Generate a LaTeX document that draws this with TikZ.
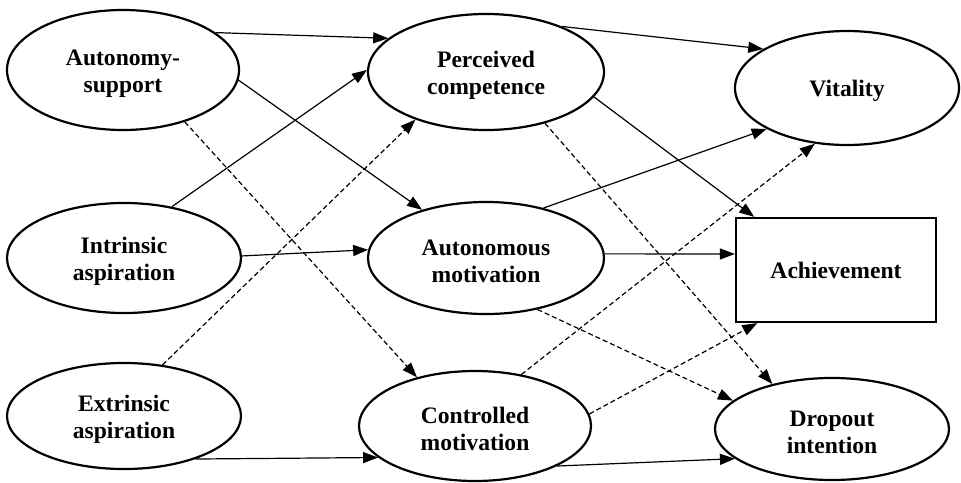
\documentclass[tikz,border=0pt]{standalone}
\usepackage{fontspec}
\setmainfont{Liberation Serif}
\usetikzlibrary{shapes.geometric,arrows.meta}
\newcommand\lowr{\rule{0pt}{23pt}}
\tikzset{
  oval/.style={ellipse, draw, line width=2.2pt, inner sep=0pt, align=center,
    font=\bfseries\fontsize{23.6}{27}\selectfont},
  boxnode/.style={rectangle, draw, line width=2.2pt, inner sep=0pt, align=center,
    font=\bfseries\fontsize{23.6}{27}\selectfont},
  link/.style={line width=1.2pt, -{Triangle[length=15pt,width=11pt]}},
  dlink/.style={link, dash pattern=on 5pt off 3pt},
}
\begin{document}
\begin{tikzpicture}[x=1pt,y=-1pt]
\useasboundingbox (0,0) rectangle (961,482);
\node[oval, minimum width=232pt, minimum height=120pt] (as) at (123,70) {\lowr Autonomy-\\support};
\node[oval, minimum width=234pt, minimum height=110pt] (ia) at (124,258) {\lowr Intrinsic\\aspiration};
\node[oval, minimum width=234pt, minimum height=106pt] (ea) at (124,416) {\lowr Extrinsic\\aspiration};
\node[oval, minimum width=236pt, minimum height=116pt] (pc) at (486,72) {\lowr Perceived\\competence};
\node[oval, minimum width=236pt, minimum height=112pt] (am) at (486,258) {\lowr Autonomous\\motivation};
\node[oval, minimum width=232pt, minimum height=110pt] (cm) at (475,426) {\lowr Controlled\\motivation};
\node[oval, minimum width=224pt, minimum height=114pt] (vi) at (847,88) {\lowr Vitality};
\node[boxnode, minimum width=200pt, minimum height=104pt] (ach) at (836,270) {Achievement};
\node[oval, minimum width=234pt, minimum height=102pt] (di) at (832,429) {\lowr Dropout\\intention};

\draw[link] (as.22) -- (pc.161);
\draw[link] (as.-5) -- (am.143);
\draw[dlink] (as.-40) -- (cm.140);
\draw[link] (ia.47) -- (pc.179);
\draw[link] (ia.1) -- (am.176);
\draw[dlink] (ea.53) -- (pc.214);
\draw[link] (ea.-31) -- (cm.198);
\draw[link] (pc.31) -- (vi.155);
\draw[link] (pc.-13) -- (ach.147);
\draw[dlink] (pc.-41) -- (di.143);
\draw[link] (am.41) -- (vi.207);
\draw[link] (am.2) -- (ach.171);
\draw[dlink] (am.-45) -- (di.164);
\draw[dlink] (cm.48) -- (vi.240);
\draw[dlink] (cm.6) -- (ach.214);
\draw[link] (cm.-26) -- (di.197);
\end{tikzpicture}
\end{document}
